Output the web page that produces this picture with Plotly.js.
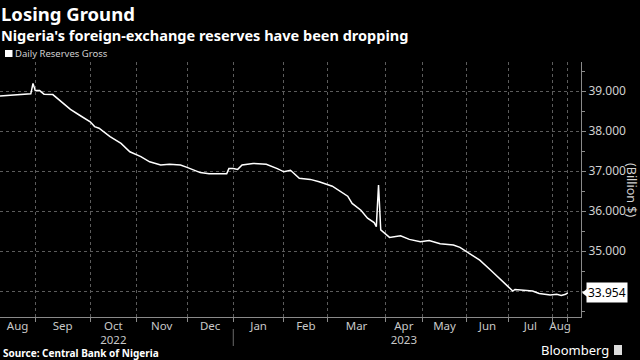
<!DOCTYPE html>
<html>
<head>
<meta charset="utf-8">
<script src="https://cdn.plot.ly/plotly-3.0.1.min.js"></script>
<style>html,body{margin:0;padding:0;background:#000;}#chart{width:640px;height:360px;}</style>
</head>
<body>
<div id="chart"></div>
<script>
// Observation index (trading-day count from start of window) and gross reserves (billion $)
const obsIndex = [0,9,13,14,15,16,18,20,24,27,32,36,41,43,45,50,55,59,64,68,73,77,82,85,88,91,95,100,103,104,106,108,110,115,121,126,129,132,136,141,145,151,155,158,160,164,167,170,171,172,173,176,177,182,186,191,195,200,206,209,212,214,218,223,227,230,233,234,238,242,245,250,253,255,257,258];
const reserves = [38.875,38.92,38.94,38.93,39.19,39.01,39.01,38.92,38.91,38.78,38.54,38.40,38.23,38.11,38.07,37.86,37.69,37.48,37.36,37.23,37.15,37.17,37.15,37.09,37.02,36.96,36.93,36.92,36.93,37.06,37.06,37.04,37.15,37.19,37.17,37.06,36.98,37.02,36.82,36.79,36.73,36.62,36.48,36.37,36.19,36.02,35.82,35.71,35.61,36.65,35.53,35.38,35.34,35.38,35.29,35.23,35.26,35.18,35.15,35.09,34.98,34.90,34.77,34.52,34.32,34.15,34.00,34.04,34.02,34.00,33.94,33.90,33.92,33.89,33.92,33.954];

// Month boundaries on the observation axis and their labels
const monthStarts = [0,16,41,62,85,106,129,149,175,192,212,231,251,258];
const monthLabels = ['Aug','Sep','Oct<br>2022','Nov','Dec','Jan','Feb','Mar','Apr<br>2023','May','Jun','Jul','Aug'];
const yTicks = [34,35,36,37,38,39];

const titleText = 'Losing Ground';
const subtitleText = "Nigeria's foreign-exchange reserves have been dropping";

const xMax = 264;
const gridTicks = monthStarts.slice(1);
const labelPos = monthLabels.map((_, i) => (monthStarts[i] + monthStarts[i+1]) / 2);
const lastVal = reserves[reserves.length - 1];

const W = 640, H = 360, L = 0, R = 59, T = 62, B = 43;
const pw = W - L - R, ph = H - T - B;
const px = x => (x - L) / pw;
const py = y => (H - B - y) / ph;

const FONT = 'Noto Sans, Roboto, sans-serif';
const yPix = 40; // pixels per billion on the y axis (for the value tag pointer)

const trace = {
  x: obsIndex, y: reserves, type: 'scatter', mode: 'lines',
  line: {color: '#ffffff', width: 1.5}, hoverinfo: 'skip', showlegend: false
};
const dummy = {x: [0], y: [reserves[0]], xaxis: 'x2', mode: 'none', showlegend: false, hoverinfo: 'skip'};

const tagY0 = lastVal - 4 / yPix, tagY1 = lastVal + 4 / yPix;

const layout = {
  width: W, height: H,
  margin: {l: L, r: R, t: T, b: B},
  paper_bgcolor: '#000', plot_bgcolor: '#000',
  font: {family: FONT, color: '#cfcfcf'},
  xaxis: {
    range: [0, xMax], tickvals: gridTicks, showticklabels: false,
    showgrid: true, gridcolor: '#5c5c5c', griddash: 'dot', gridwidth: 1,
    ticks: 'outside', ticklen: 4, tickcolor: '#8a8a8a',
    showline: true, linecolor: '#8a8a8a', linewidth: 1, zeroline: false, fixedrange: true
  },
  xaxis2: {
    overlaying: 'x', matches: 'x', range: [0, xMax], side: 'bottom',
    tickvals: labelPos, ticktext: monthLabels, ticks: '', showgrid: false,
    showline: false, zeroline: false, tickfont: {size: 11.5, color: '#c8c8c8', family: FONT}
  },
  yaxis: {
    side: 'right', range: [33.35, 39.725],
    tickvals: yTicks, ticktext: yTicks.map(v => v === 34 ? '' : v.toFixed(3)),
    showgrid: true, gridcolor: '#5c5c5c', griddash: 'dot', gridwidth: 1,
    ticks: 'outside', ticklen: 4, tickcolor: '#8a8a8a',
    minor: {dtick: 0.5, tick0: 0, ticks: 'outside', ticklen: 3, tickcolor: '#8a8a8a', showgrid: false},
    showline: true, linecolor: '#8a8a8a', linewidth: 1, zeroline: false,
    tickfont: {size: 12, color: '#d0d0d0', family: FONT}, fixedrange: true
  },
  shapes: [
    {type: 'rect', xref: 'paper', yref: 'paper', x0: px(5), x1: px(12.5), y0: py(57), y1: py(50), fillcolor: '#ffffff', line: {width: 0}},
    {type: 'line', xref: 'x', yref: 'paper', x0: monthStarts[5], x1: monthStarts[5], y0: py(329), y1: py(346), line: {color: '#6a6a6a', width: 1}},
    {type: 'path', xref: 'paper', yref: 'y',
     path: `M ${px(582)} ${lastVal} L ${px(587)} ${tagY0} L ${px(587)} ${tagY1} Z`,
     fillcolor: '#ffffff', line: {width: 0}},
    {type: 'rect', xref: 'paper', yref: 'paper', x0: px(614), x1: px(622), y0: py(355), y1: py(345), fillcolor: '#dcdcdc', line: {width: 0}}
  ],
  annotations: [
    {xref: 'paper', yref: 'paper', x: px(0), y: py(0), xanchor: 'left', yanchor: 'top', showarrow: false, borderpad: 0,
     text: `<b>${titleText}</b>`, font: {size: 18.5, color: '#ffffff', family: FONT}},
    {xref: 'paper', yref: 'paper', x: px(0), y: py(35), xanchor: 'left', yanchor: 'middle', showarrow: false, borderpad: 0,
     text: `<b>${subtitleText}</b>`, font: {size: 14.5, color: '#ffffff', family: FONT}},
    {xref: 'paper', yref: 'paper', x: px(13), y: py(54), xanchor: 'left', yanchor: 'middle', showarrow: false,
     text: 'Daily Reserves Gross', font: {size: 9.5, color: '#d0d0d0', family: FONT}},
    {xref: 'paper', yref: 'paper', x: px(632), y: py(190), xanchor: 'center', yanchor: 'middle', showarrow: false,
     textangle: 90, text: '(Billion $)', font: {size: 12.5, color: '#d0d0d0', family: FONT}},
    {xref: 'paper', yref: 'y', x: 1, y: lastVal, xanchor: 'left', yanchor: 'middle', xshift: 5, showarrow: false,
     text: lastVal.toFixed(3), bgcolor: '#ffffff', borderpad: 1, font: {size: 12, color: '#000000', family: FONT}},
    {xref: 'paper', yref: 'paper', x: px(1), y: py(352.5), xanchor: 'left', yanchor: 'middle', showarrow: false,
     text: '<b>Source: Central Bank of Nigeria</b>', font: {size: 10, color: '#ffffff', family: FONT}},
    {xref: 'paper', yref: 'paper', x: px(611), y: py(350), xanchor: 'right', yanchor: 'middle', showarrow: false,
     text: 'Bloomberg', font: {size: 13, color: '#ffffff', family: FONT}}
  ],
  showlegend: false
};

Plotly.newPlot('chart', [trace, dummy], layout, {staticPlot: true, displayModeBar: false});
</script>
</body>
</html>
